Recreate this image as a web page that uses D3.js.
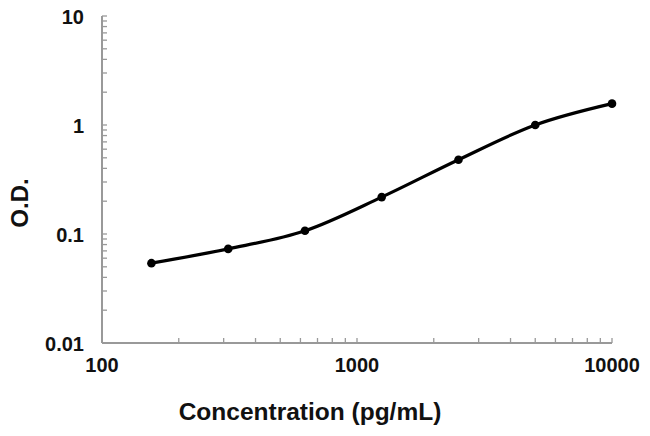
<!DOCTYPE html>
<html><head><meta charset="utf-8">
<script src="https://cdn.jsdelivr.net/npm/d3@7/dist/d3.min.js"></script>
<style>body{margin:0;background:#fff}svg{display:block}text{font-family:"Liberation Sans",Arial,sans-serif;font-weight:bold;fill:#111}</style>
</head><body><svg id="c" width="650" height="436"></svg>
<script>
const concentrations = [156.25, 312.5, 625, 1250, 2500, 5000, 10000];
const odValues = [0.054, 0.073, 0.107, 0.218, 0.48, 1.0, 1.57];
const xTickLabels = [100, 1000, 10000];
const yTickLabels = [0.01, 0.1, 1, 10];

const svg = d3.select("#c");
const x = d3.scaleLog().domain([100, 10000]).range([102, 612]);
const y = d3.scaleLog().domain([0.01, 10]).range([343, 16]);
const axisColor = "#999";

// minor ticks
const xMinor = [];
for (let d = 100; d < 10000; d *= 10) for (let k = 2; k <= 10; k++) xMinor.push(d * k);
const yMinor = [];
for (let d = 0.01; d < 9; d *= 10) for (let k = 2; k <= 10; k++) yMinor.push(+(d * k).toPrecision(3));

svg.append("g").selectAll("line").data(xMinor).join("line")
  .attr("x1", d => x(d)).attr("x2", d => x(d))
  .attr("y1", y(0.01)).attr("y2", y(0.01) - 5)
  .attr("stroke", axisColor).attr("stroke-width", 1.3);
svg.append("g").selectAll("line").data(yMinor).join("line")
  .attr("y1", d => y(d)).attr("y2", d => y(d))
  .attr("x1", x(100)).attr("x2", x(100) + 5)
  .attr("stroke", axisColor).attr("stroke-width", 1.3);

// axis lines
svg.append("line").attr("x1", x(100)).attr("x2", x(10000)).attr("y1", y(0.01)).attr("y2", y(0.01))
  .attr("stroke", axisColor).attr("stroke-width", 2);
svg.append("line").attr("x1", x(100)).attr("x2", x(100)).attr("y1", y(0.01)).attr("y2", y(10))
  .attr("stroke", axisColor).attr("stroke-width", 2);

// tick labels
svg.append("g").selectAll("text").data(xTickLabels).join("text")
  .attr("x", d => x(d)).attr("y", 372).attr("text-anchor", "middle")
  .attr("font-size", 20).text(d => d);
svg.append("g").selectAll("text").data(yTickLabels).join("text")
  .attr("x", 84).attr("y", d => y(d) + 7.5).attr("text-anchor", "end")
  .attr("font-size", 20).text(d => d);

// axis titles
svg.append("text").attr("x", 310).attr("y", 420).attr("text-anchor", "middle")
  .attr("font-size", 24.5).text("Concentration (pg/mL)");
svg.append("text").attr("transform", "translate(28,203) rotate(-90)").attr("text-anchor", "middle")
  .attr("font-size", 24).text("O.D.");

// curve
const pts = concentrations.map((c, i) => [c, odValues[i]]);
const line = d3.line().x(d => x(d[0])).y(d => y(d[1])).curve(d3.curveMonotoneX);
svg.append("path").attr("d", line(pts)).attr("fill", "none")
  .attr("stroke", "#000").attr("stroke-width", 3.2);
svg.append("g").selectAll("circle").data(pts).join("circle")
  .attr("cx", d => x(d[0])).attr("cy", d => y(d[1])).attr("r", 4.3).attr("fill", "#000");
</script></body></html>
